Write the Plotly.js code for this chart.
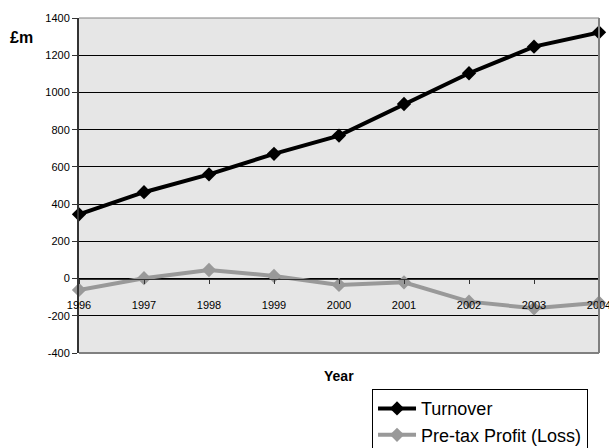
<!DOCTYPE html>
<html>
<head>
<meta charset="utf-8">
<script src="https://cdn.plot.ly/plotly-3.0.1.min.js"></script>
<style>
html,body{margin:0;padding:0;background:#fff;}
#chart{width:609px;height:448px;}
</style>
</head>
<body>
<div id="chart"></div>
<script>
var years = [1996, 1997, 1998, 1999, 2000, 2001, 2002, 2003, 2004];
var turnover = [345, 464, 560, 670, 768, 938, 1103, 1246, 1323];
var profit = [-61, 2, 46, 14, -34, -20, -124, -160, -130];
var yTicks = [-400, -200, 0, 200, 400, 600, 800, 1000, 1200, 1400];
var yTickText = ['-400', '-200', '0', '200', '400', '600', '800', '1000', '1200', '1400'];

var FONT = 'Liberation Sans, Arial, sans-serif';

var traces = [
  {
    x: years, y: turnover, name: 'Turnover', type: 'scatter', mode: 'lines+markers',
    line: {color: '#000000', width: 4},
    marker: {symbol: 'diamond', size: 11, color: '#000000'},
    cliponaxis: false
  },
  {
    x: years, y: profit, name: 'Pre-tax Profit (Loss)', type: 'scatter', mode: 'lines+markers',
    line: {color: '#999999', width: 4},
    marker: {symbol: 'diamond', size: 11, color: '#999999'},
    cliponaxis: false
  }
];

var zeroFrac = 400 / 1800;

var layout = {
  width: 609, height: 448,
  margin: {l: 79, r: 10, t: 18, b: 95, autoexpand: false},
  paper_bgcolor: '#ffffff',
  plot_bgcolor: '#e6e6e6',
  font: {family: FONT, size: 11, color: '#000'},
  showlegend: true,
  legend: {
    x: 0.5635, xanchor: 'left', y: -0.108, yanchor: 'top',
    bgcolor: '#ffffff', bordercolor: '#000000', borderwidth: 1,
    font: {family: FONT, size: 18, color: '#000'},
    itemwidth: 38,
    tracegroupgap: 0
  },
  xaxis: {
    range: [1996, 2004], tickvals: years, ticktext: years.map(String),
    anchor: 'free', position: zeroFrac,
    showline: true, linecolor: '#333333', linewidth: 1,
    ticks: 'outside', ticklen: 4, tickcolor: '#333333',
    showgrid: false, zeroline: false,
    ticklabelstandoff: 12, ticklabeloverflow: 'allow',
    automargin: false,
    tickfont: {family: FONT, size: 11, color: '#000'}
  },
  yaxis: {
    range: [-400, 1400], tickvals: yTicks, ticktext: yTickText,
    showline: true, linecolor: '#333333', linewidth: 2,
    ticks: 'outside', ticklen: 5, tickcolor: '#333333',
    showgrid: true, gridcolor: '#000000', gridwidth: 1,
    zeroline: false, automargin: false,
    tickfont: {family: FONT, size: 11, color: '#000'}
  },
  shapes: [
    {type: 'line', xref: 'paper', yref: 'paper', x0: 1, x1: 1, y0: 0, y1: 1, line: {color: '#808080', width: 2}},
    {type: 'line', xref: 'paper', yref: 'paper', x0: 0, x1: 1, y0: 0, y1: 0, line: {color: '#808080', width: 2}},
    {type: 'line', xref: 'paper', yref: 'paper', x0: 0, x1: 1, y0: 1, y1: 1, line: {color: '#808080', width: 1}}
  ],
  annotations: [
    {text: '<b>£m</b>', xref: 'paper', yref: 'paper', x: -0.1115, y: 0.943, xanchor: 'center', yanchor: 'middle',
     showarrow: false, font: {family: FONT, size: 16, color: '#000'}},
    {text: '<b>Year</b>', xref: 'paper', yref: 'paper', x: 0.5, y: -0.07, xanchor: 'center', yanchor: 'middle',
     showarrow: false, font: {family: FONT, size: 14, color: '#000'}}
  ]
};

Plotly.newPlot('chart', traces, layout, {displayModeBar: false, staticPlot: true});
</script>
</body>
</html>
